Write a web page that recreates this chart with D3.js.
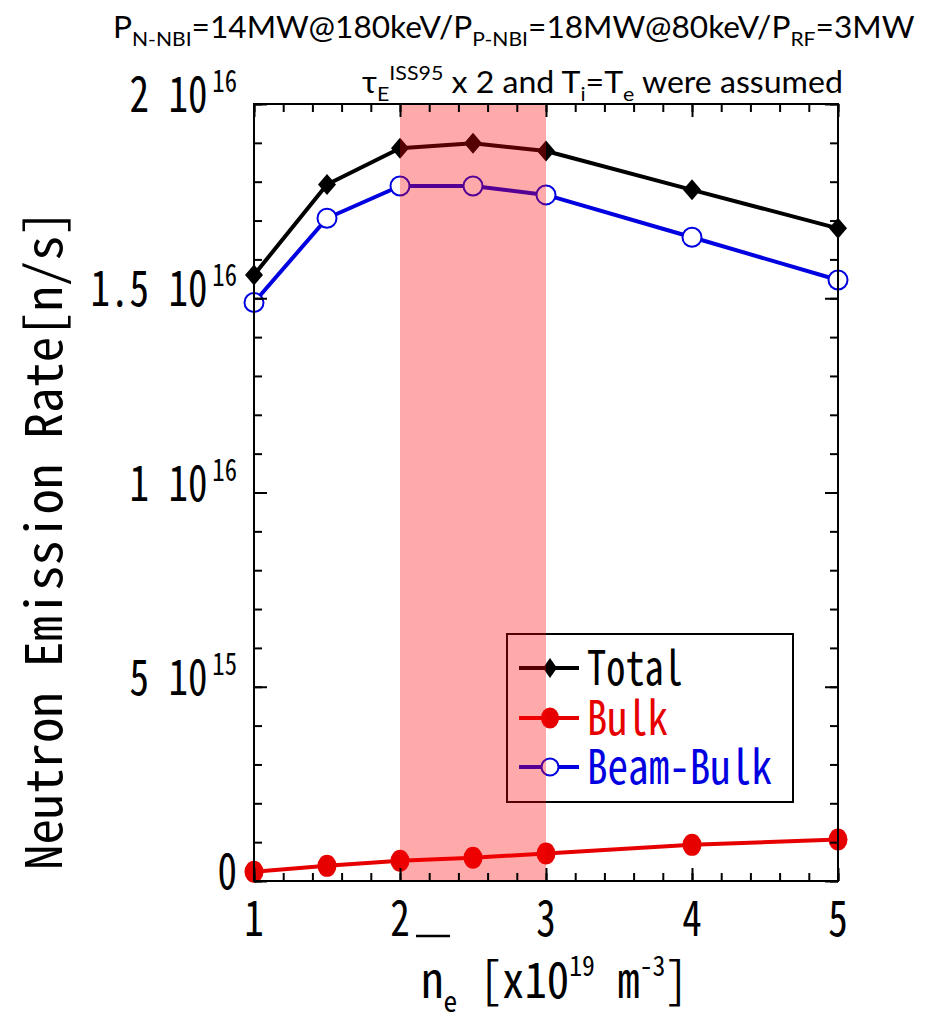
<!DOCTYPE html>
<html>
<head>
<meta charset="utf-8">
<script src="https://cdn.jsdelivr.net/npm/d3@7"></script>
<style>
  body { margin: 0; background: #fff; }
  svg { display: block; }
</style>
</head>
<body>
<script>
// values
const neVals = [1, 1.5, 2, 2.5, 3, 4, 5];
const totalRate = [1.560e16, 1.793e16, 1.886e16, 1.899e16, 1.879e16, 1.779e16, 1.680e16];
const bulkRate = [0.024e16, 0.039e16, 0.052e16, 0.060e16, 0.071e16, 0.093e16, 0.107e16];
const beamBulkRate = [1.489e16, 1.706e16, 1.789e16, 1.789e16, 1.766e16, 1.657e16, 1.547e16];
const shadedRange = [2, 3];
const xTickValues = [1, 2, 3, 4, 5];
const yTickValues = [0, 5e15, 1e16, 1.5e16, 2e16];
const yTickMantissa = ["0", "5", "1", "1.5", "2"];
const yTickExponent = ["", "15", "16", "16", "16"];
const seriesNames = ["Total", "Bulk", "Beam-Bulk"];
const seriesColors = ["#000000", "#e60000", "#0000e0"];

const width = 937, height = 1019;
const MONO = "'Noto Sans Mono CJK JP','DejaVu Sans Mono',monospace";
const SANS = "Lato,'Open Sans',sans-serif";

const svg = d3.select("body").append("svg")
  .attr("width", width)
  .attr("height", height);

const x = d3.scaleLinear().domain([1, 5]).range([254, 838]);
const y = d3.scaleLinear().domain([0, 2e16]).range([881, 104]);

// scale factor so one mono char is `target` px wide
function charScale(size, target) {
  const t = svg.append("text").attr("font-family", MONO).attr("font-size", size).text("0000000000");
  const w = t.node().getComputedTextLength() / 10;
  t.remove();
  return target / w;
}

// squeeze a text (drawn at 0,0) so it spans [left, left+w]
function fitText(t, left, w, baseY) {
  const b = t.node().getBBox();
  const s = w / b.width;
  t.attr("transform", `translate(${left - b.x * s},${baseY}) scale(${s},1)`);
}

const line = d3.line().x(d => x(d[0])).y(d => y(d[1]));

// series lines
const seriesData = [totalRate, bulkRate, beamBulkRate];
seriesData.forEach((vals, i) => {
  svg.append("path")
    .datum(neVals.map((v, j) => [v, vals[j]]))
    .attr("d", line)
    .attr("fill", "none")
    .attr("stroke", seriesColors[i])
    .attr("stroke-width", 4)
    .attr("stroke-linejoin", "round");
});

// markers
svg.selectAll(".tot").data(neVals).enter().append("path")
  .attr("class", "tot")
  .attr("d", "M0,-10.5L9,0L0,10.5L-9,0Z")
  .attr("transform", (d, j) => `translate(${x(d)},${y(totalRate[j])})`)
  .attr("fill", "#000");

svg.selectAll(".blk").data(neVals).enter().append("ellipse")
  .attr("class", "blk")
  .attr("cx", d => x(d))
  .attr("cy", (d, j) => y(bulkRate[j]))
  .attr("rx", 9.5).attr("ry", 11)
  .attr("fill", seriesColors[1]);

svg.selectAll(".bb").data(neVals).enter().append("circle")
  .attr("class", "bb")
  .attr("cx", d => x(d))
  .attr("cy", (d, j) => y(beamBulkRate[j]))
  .attr("r", 9.5)
  .attr("fill", "#fff")
  .attr("stroke", seriesColors[2])
  .attr("stroke-width", 2);

// legend
svg.append("rect")
  .attr("x", 507).attr("y", 634).attr("width", 286).attr("height", 168)
  .attr("fill", "#fff").attr("stroke", "#000").attr("stroke-width", 2);

const legRowY = [668, 718, 767];
const legTextW = [96, 81, 185];
seriesNames.forEach((name, i) => {
  const g = svg.append("g");
  g.append("line")
    .attr("x1", 519).attr("x2", 579).attr("y1", legRowY[i]).attr("y2", legRowY[i])
    .attr("stroke", seriesColors[i]).attr("stroke-width", 4);
  if (i === 0) {
    g.append("path").attr("d", "M0,-10L7,0L0,10L-7,0Z")
      .attr("transform", `translate(550,${legRowY[i]})`).attr("fill", "#000");
  } else if (i === 1) {
    g.append("ellipse").attr("cx", 550).attr("cy", legRowY[i]).attr("rx", 9).attr("ry", 10.5)
      .attr("fill", seriesColors[1]);
  } else {
    g.append("circle").attr("cx", 550).attr("cy", legRowY[i]).attr("r", 8.5)
      .attr("fill", "#fff").attr("stroke", seriesColors[2]).attr("stroke-width", 2);
  }
  const t = svg.append("text")
    .attr("font-family", MONO).attr("font-size", 48)
    .attr("fill", seriesColors[i])
    .text(name);
  fitText(t, 587, legTextW[i], legRowY[i] + 17);
});

// shaded density window, drawn on top like the original
svg.append("rect")
  .attr("x", x(shadedRange[0]))
  .attr("width", x(shadedRange[1]) - x(shadedRange[0]))
  .attr("y", y(2e16))
  .attr("height", y(0) - y(2e16))
  .attr("fill", "#ff0000")
  .attr("fill-opacity", 0.333);

// ticks (inward) with d3 axes
const xMinor = d3.range(0, 21).map(i => 1 + i * 0.2);
const yMinor = d3.range(0, 21).map(i => i * 1e15);
function tickAxis(axis, tx, ty) {
  const g = svg.append("g").attr("transform", `translate(${tx},${ty})`).call(axis);
  g.select(".domain").remove();
  g.selectAll("line").attr("stroke", "#000").attr("stroke-width", 2);
  return g;
}
tickAxis(d3.axisBottom(x).tickValues(xMinor).tickSize(-8).tickFormat(""), 0, y(0));
tickAxis(d3.axisBottom(x).tickValues(xTickValues).tickSize(-13).tickFormat(""), 0, y(0));
tickAxis(d3.axisTop(x).tickValues(xMinor).tickSize(-8).tickFormat(""), 0, y(2e16));
tickAxis(d3.axisTop(x).tickValues(xTickValues).tickSize(-13).tickFormat(""), 0, y(2e16));
tickAxis(d3.axisLeft(y).tickValues(yMinor).tickSize(-8).tickFormat(""), x(1), 0);
tickAxis(d3.axisLeft(y).tickValues(yTickValues).tickSize(-13).tickFormat(""), x(1), 0);
tickAxis(d3.axisRight(y).tickValues(yMinor).tickSize(-8).tickFormat(""), x(5), 0);
tickAxis(d3.axisRight(y).tickValues(yTickValues).tickSize(-13).tickFormat(""), x(5), 0);

// frame
svg.append("rect")
  .attr("x", x(1)).attr("y", y(2e16))
  .attr("width", x(5) - x(1)).attr("height", y(0) - y(2e16))
  .attr("fill", "none").attr("stroke", "#000").attr("stroke-width", 2);

// tick labels
const sDigit = charScale(49, 19.5);
xTickValues.forEach(v => {
  svg.append("text")
    .attr("font-family", MONO).attr("font-size", 49)
    .attr("text-anchor", "middle")
    .attr("transform", `translate(${x(v)},936) scale(${sDigit},1)`)
    .text(d3.format("d")(v));
});

yTickValues.forEach((v, i) => {
  const t = svg.append("text")
    .attr("font-family", MONO).attr("font-size", 49)
    .attr("text-anchor", "end")
    .attr("transform", `translate(237,${y(v) + 8}) scale(${sDigit},1)`);
  t.append("tspan").text(yTickExponent[i] ? yTickMantissa[i] + " 10" : yTickMantissa[i]);
  if (yTickExponent[i]) {
    t.append("tspan").attr("font-size", 31).attr("dx", 6).attr("dy", -20).text(yTickExponent[i]);
  }
});

// y axis title
const yTitle = svg.append("text")
  .attr("font-family", MONO).attr("font-size", 50)
  .attr("text-anchor", "middle")
  .text("Neutron Emission Rate[n/s]");
{
  const b = yTitle.node().getBBox();
  const s = 660 / b.width;
  yTitle.attr("transform", `translate(62,540) rotate(-90) scale(${s},1)`);
}

// x axis title: overlined n_e [x10^19 m^-3]
const xTitle = svg.append("text").attr("font-family", MONO).attr("font-size", 49);
xTitle.append("tspan").text("n");
xTitle.append("tspan").attr("font-size", 30).attr("dy", 14).text("e");
xTitle.append("tspan").attr("dy", -14).text(" [x10");
xTitle.append("tspan").attr("font-size", 28).attr("dy", -22).text("19");
xTitle.append("tspan").attr("dy", 22).text(" m");
xTitle.append("tspan").attr("font-size", 28).attr("dy", -22).text("-3");
xTitle.append("tspan").attr("dy", 22).text("]");
fitText(xTitle, 421, 267, 998);
svg.append("line")
  .attr("x1", 416).attr("x2", 450).attr("y1", 936).attr("y2", 936)
  .attr("stroke", "#000").attr("stroke-width", 2.5);

// header lines
const title = svg.append("text").attr("font-family", SANS).attr("font-size", 30).attr("fill", "#000");
title.append("tspan").text("P");
title.append("tspan").attr("font-size", 20).attr("dy", 8).text("N-NBI");
title.append("tspan").attr("dy", -8).text("=14MW@180keV/P");
title.append("tspan").attr("font-size", 20).attr("dy", 8).text("P-NBI");
title.append("tspan").attr("dy", -8).text("=18MW@80keV/P");
title.append("tspan").attr("font-size", 20).attr("dy", 8).text("RF");
title.append("tspan").attr("dy", -8).text("=3MW");
fitText(title, 113, 802, 38);

const sub = svg.append("text").attr("font-family", SANS).attr("font-size", 30).attr("fill", "#000");
sub.append("tspan").text("τ");
sub.append("tspan").attr("font-size", 20).attr("dy", 8).text("E");
sub.append("tspan").attr("font-size", 20).attr("dy", -21).text("ISS95");
sub.append("tspan").attr("dy", 13).text(" x 2 and T");
sub.append("tspan").attr("font-size", 20).attr("dy", 8).text("i");
sub.append("tspan").attr("dy", -8).text("=T");
sub.append("tspan").attr("font-size", 20).attr("dy", 8).text("e");
sub.append("tspan").attr("dy", -8).text(" were assumed");
fitText(sub, 362, 481, 93);
</script>
</body>
</html>
